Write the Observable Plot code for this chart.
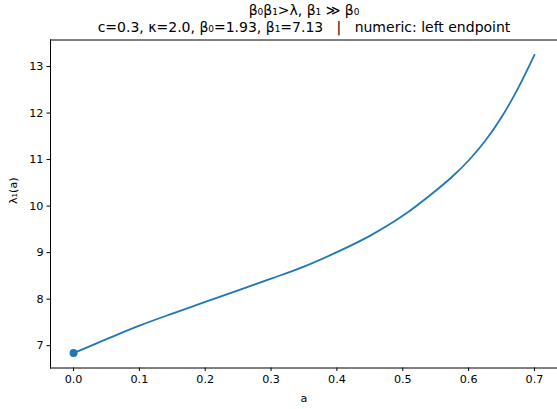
<!DOCTYPE html>
<html><head><meta charset="utf-8">
<script src="https://cdn.jsdelivr.net/npm/d3@7"></script>
<script src="https://cdn.jsdelivr.net/npm/@observablehq/plot@0.6"></script>
<style>
html,body{margin:0;padding:0;background:#fff;overflow:hidden;}
svg{font-family:"DejaVu Sans",sans-serif;}
svg text{white-space:pre;}
</style>
</head><body><div id="chart"></div>
<script>
const aValues = [0, 0.05, 0.1, 0.15, 0.2, 0.25, 0.3, 0.35, 0.4, 0.45, 0.5, 0.55, 0.575, 0.6, 0.625, 0.65, 0.675, 0.7];
const lambdaValues = [6.84, 7.14, 7.43, 7.69, 7.94, 8.19, 8.44, 8.70, 9.01, 9.36, 9.79, 10.33, 10.63, 10.98, 11.40, 11.91, 12.53, 13.25];
const xTicks = [0, 0.1, 0.2, 0.3, 0.4, 0.5, 0.6, 0.7];
const yTicks = [7, 8, 9, 10, 11, 12, 13];
const titleLine1 = "β₀β₁>λ, β₁ ≫ β₀";
const titleLine2 = "c=0.3, κ=2.0, β₀=1.93, β₁=7.13   |   numeric: left endpoint";
const xLabel = "a";
const yLabel = "λ₁(a)";

const data = aValues.map((a, i) => ({a, lam: lambdaValues[i]}));
const endpoint = [data[0]];
const blue = "#1f77b4";
const tickFont = 11.2;
const titleFont = 14;

const chart = Plot.plot({
  width: 557,
  height: 409,
  marginLeft: 50,
  marginRight: 0,
  marginTop: 39.5,
  marginBottom: 41.5,
  style: {fontFamily: "DejaVu Sans", fontSize: tickFont + "px", color: "#000", background: "#fff", overflow: "visible"},
  x: {domain: [-0.035, 0.735]},
  y: {domain: [6.52, 13.57]},
  marks: [
    Plot.axisX({ticks: xTicks, tickFormat: d3.format(".1f"), tickSize: 3.5, tickPadding: 4, label: null, fontSize: tickFont}),
    Plot.axisY({ticks: yTicks, tickFormat: d3.format("d"), tickSize: 3.5, tickPadding: 3.5, label: null, fontSize: tickFont}),
    Plot.frame({anchor: "left", stroke: "#000", strokeWidth: 1}),
    Plot.frame({anchor: "top", stroke: "#000", strokeWidth: 1}),
    Plot.frame({anchor: "bottom", stroke: "#000", strokeWidth: 1}),
    Plot.line(data, {x: "a", y: "lam", stroke: blue, strokeWidth: 1.8, curve: "catmull-rom"}),
    Plot.dot(endpoint, {x: "a", y: "lam", r: 4, fill: blue, stroke: null}),
    Plot.text([titleLine1], {frameAnchor: "top", dy: -29, text: d => d, fontSize: titleFont, lineAnchor: "middle", fill: "#000"}),
    Plot.text([titleLine2], {frameAnchor: "top", dy: -12.5, text: d => d, fontSize: titleFont, lineAnchor: "middle", fill: "#000"}),
    Plot.text([xLabel], {frameAnchor: "bottom", dy: 30.5, text: d => d, fontSize: tickFont, lineAnchor: "middle", fill: "#000"}),
    Plot.text([yLabel], {frameAnchor: "left", dx: -36.7, rotate: -90, text: d => d, fontSize: tickFont, lineAnchor: "middle", fill: "#000"})
  ]
});
document.getElementById("chart").appendChild(chart);
</script>
</body></html>
